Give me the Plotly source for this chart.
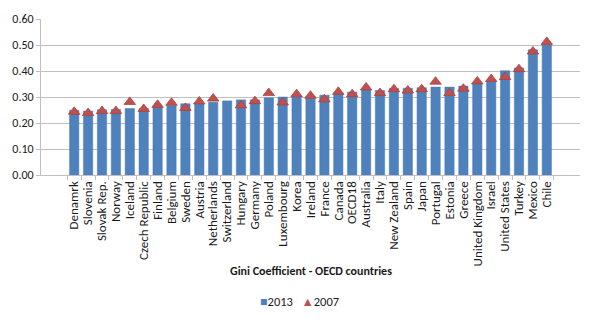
import plotly.graph_objects as go

countries = [
    "Denamrk", "Slovenia", "Slovak Rep.", "Norway", "Iceland", "Czech Republic",
    "Finland", "Belgium", "Sweden", "Austria", "Netherlands", "Switzerland",
    "Hungary", "Germany", "Poland", "Luxembourg", "Korea", "Ireland", "France",
    "Canada", "OECD18", "Australia", "Italy", "New Zealand", "Spain", "Japan",
    "Portugal", "Estonia", "Greece", "United Kingdom", "Israel", "United States",
    "Turkey", "Mexico", "Chile",
]

gini_2013 = [
    0.249, 0.246, 0.251, 0.252, 0.256, 0.256, 0.262, 0.267, 0.274, 0.276,
    0.280, 0.285, 0.289, 0.289, 0.297, 0.300, 0.302, 0.302, 0.307, 0.316,
    0.319, 0.327, 0.325, 0.333, 0.334, 0.336, 0.338, 0.338, 0.342, 0.352,
    0.360, 0.401, 0.412, 0.482, 0.503,
]

gini_2007 = [
    0.243, 0.238, 0.246, 0.246, 0.281, 0.254, 0.270, 0.278, 0.258, 0.283,
    0.294, None, 0.268, 0.284, 0.315, 0.279, 0.311, 0.305, 0.291, 0.320,
    0.311, 0.337, 0.315, 0.330, 0.325, 0.330, 0.359, 0.315, 0.332, 0.360,
    0.369, 0.377, 0.407, 0.475, 0.512,
]

y_ticks = [0.0, 0.1, 0.2, 0.3, 0.4, 0.5, 0.6]

BLUE = "#4F81BD"
RED = "#C0504D"
FONT = "Carlito, Lato, Liberation Sans, sans-serif"

fig = go.Figure()
fig.add_trace(go.Bar(
    x=countries, y=gini_2013, name="2013",
    marker=dict(color=BLUE, line=dict(color="#4A7AB3", width=0.5)),
))
fig.add_trace(go.Scatter(
    x=countries, y=gini_2007, name="2007", mode="markers",
    marker=dict(symbol="triangle-up", size=10, color=RED,
                line=dict(color="#A94441", width=0.8)),
))

# compact Excel-style key under the axis title
legend_text = (f"<span style='color:{BLUE}'>■</span>2013   "
               f"<span style='color:{RED}'>▲</span>2007")

fig.update_layout(
    width=593, height=325,
    margin=dict(l=40, r=13, t=13, b=150),
    paper_bgcolor="white", plot_bgcolor="white",
    font=dict(family=FONT, size=11, color="#1a1a1a"),
    bargap=0.33,
    showlegend=False,
    xaxis=dict(
        type="category", tickmode="array", tickvals=countries,
        ticktext=countries, showgrid=False, showline=True,
        linecolor="#BFBFBF", ticks="outside", ticklen=4,
        tickcolor="#BFBFBF", tickson="boundaries",
        tickangle=-90, tickfont=dict(size=13),
    ),
    yaxis=dict(
        range=[0, 0.6], tickvals=y_ticks, tickformat=".2f",
        showgrid=True, gridcolor="#BFBFBF", gridwidth=1,
        showline=True, linecolor="#BFBFBF", ticks="outside", ticklen=4,
        tickcolor="#BFBFBF", zeroline=False, tickfont=dict(size=12),
    ),
    annotations=[
        dict(text="<b>Gini Coefficient - OECD countries</b>", xref="paper",
             yref="paper", x=0.5, y=-0.617, xanchor="center",
             yanchor="middle", showarrow=False, font=dict(size=12)),
        dict(text=legend_text, xref="paper", yref="paper", x=0.48,
             y=-0.809, xanchor="center", yanchor="middle", showarrow=False,
             font=dict(size=12.5)),
    ],
)

fig.write_html("out.html")
